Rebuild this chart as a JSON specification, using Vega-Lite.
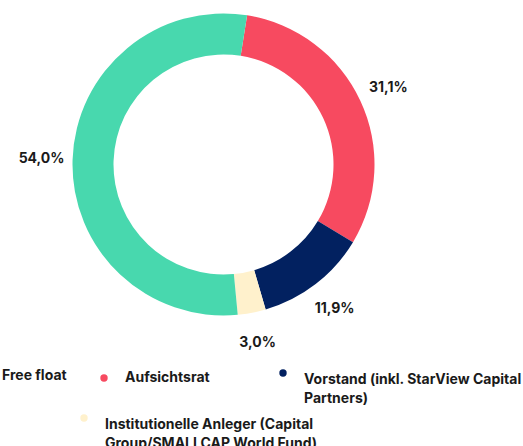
{
  "$schema": "https://vega.github.io/schema/vega-lite/v6.json",
  "width": 447,
  "height": 329,
  "autosize": {"type": "none"},
  "padding": {"left": 0, "top": 0, "right": 76, "bottom": 117},
  "background": "white",
  "config": {
    "view": {"stroke": null},
    "locale": {"number": {"decimal": ",", "thousands": ".", "grouping": [3], "currency": ["", " €"]}},
    "legend": {
      "orient": "none",
      "labelFont": "Inter",
      "labelFontSize": 14,
      "labelFontWeight": "bold",
      "labelColor": "#1a1a1a",
      "labelLimit": 600,
      "labelOffset": 14,
      "symbolSize": 55,
      "symbolType": "circle",
      "symbolStrokeWidth": 0,
      "padding": 0,
      "titlePadding": 0
    }
  },
  "data": {
    "values": [
      {"name": "Aufsichtsrat", "share": 0.311, "order": 1},
      {"name": "Vorstand (inkl. StarView Capital Partners)", "share": 0.119, "order": 2},
      {"name": "Institutionelle Anleger (Capital Group/SMALLCAP World Fund)", "share": 0.03, "order": 3},
      {"name": "Free float", "share": 0.54, "order": 4}
    ]
  },
  "encoding": {
    "theta": {"field": "share", "type": "quantitative", "stack": true, "scale": {"range": [0.157, 6.4402]}},
    "order": {"field": "order", "type": "quantitative"}
  },
  "layer": [
    {
      "mark": {"type": "arc", "outerRadius": 151, "innerRadius": 110},
      "encoding": {
        "color": {
          "field": "name", "type": "nominal",
          "scale": {"domain": ["Free float", "Aufsichtsrat", "Vorstand (inkl. StarView Capital Partners)", "Institutionelle Anleger (Capital Group/SMALLCAP World Fund)"], "range": ["#48D8AE", "#F74A60", "#022160", "#FFF1CC"]},
          "legend": {"title": null, "values": ["Free float"], "legendX": -26, "legendY": 369}
        }
      }
    },
    {
      "mark": {"type": "text", "radius": 182, "font": "Inter", "fontSize": 14, "fontWeight": "bold", "color": "#1a1a1a"},
      "encoding": {
        "text": {"field": "share", "type": "quantitative", "format": ".1%"}
      }
    },
    {
      "mark": {"type": "text", "text": ""},
      "encoding": {
        "color": {
          "field": "name", "type": "nominal",
          "scale": {"domain": ["Free float", "Aufsichtsrat", "Vorstand (inkl. StarView Capital Partners)", "Institutionelle Anleger (Capital Group/SMALLCAP World Fund)"], "range": ["#48D8AE", "#F74A60", "#022160", "#FFF1CC"]},
          "legend": {"title": null, "values": ["Aufsichtsrat"], "legendX": 97, "legendY": 371}
        }
      }
    },
    {
      "mark": {"type": "text", "text": ""},
      "encoding": {
        "color": {
          "field": "name", "type": "nominal",
          "scale": {"domain": ["Free float", "Aufsichtsrat", "Vorstand (inkl. StarView Capital Partners)", "Institutionelle Anleger (Capital Group/SMALLCAP World Fund)"], "range": ["#48D8AE", "#F74A60", "#022160", "#FFF1CC"]},
          "legend": {"title": null, "values": ["Vorstand (inkl. StarView Capital Partners)"], "legendX": 276, "legendY": 366, "labelBaseline": "top",
            "labelExpr": "datum.label == 'Vorstand (inkl. StarView Capital Partners)' ? ['Vorstand (inkl. StarView Capital', 'Partners)'] : datum.label",
            "encode": {"labels": {"update": {"lineHeight": {"value": 19}}}}}
        }
      }
    },
    {
      "mark": {"type": "text", "text": ""},
      "encoding": {
        "color": {
          "field": "name", "type": "nominal",
          "scale": {"domain": ["Free float", "Aufsichtsrat", "Vorstand (inkl. StarView Capital Partners)", "Institutionelle Anleger (Capital Group/SMALLCAP World Fund)"], "range": ["#48D8AE", "#F74A60", "#022160", "#FFF1CC"]},
          "legend": {"title": null, "values": ["Institutionelle Anleger (Capital Group/SMALLCAP World Fund)"], "legendX": 77, "legendY": 411, "labelBaseline": "top",
            "labelExpr": "datum.label == 'Institutionelle Anleger (Capital Group/SMALLCAP World Fund)' ? ['Institutionelle Anleger (Capital', 'Group/SMALLCAP World Fund)'] : datum.label",
            "encode": {"labels": {"update": {"lineHeight": {"value": 19}}}}}
        }
      }
    }
  ],
  "resolve": {"scale": {"color": "independent"}, "legend": {"color": "independent"}}
}
